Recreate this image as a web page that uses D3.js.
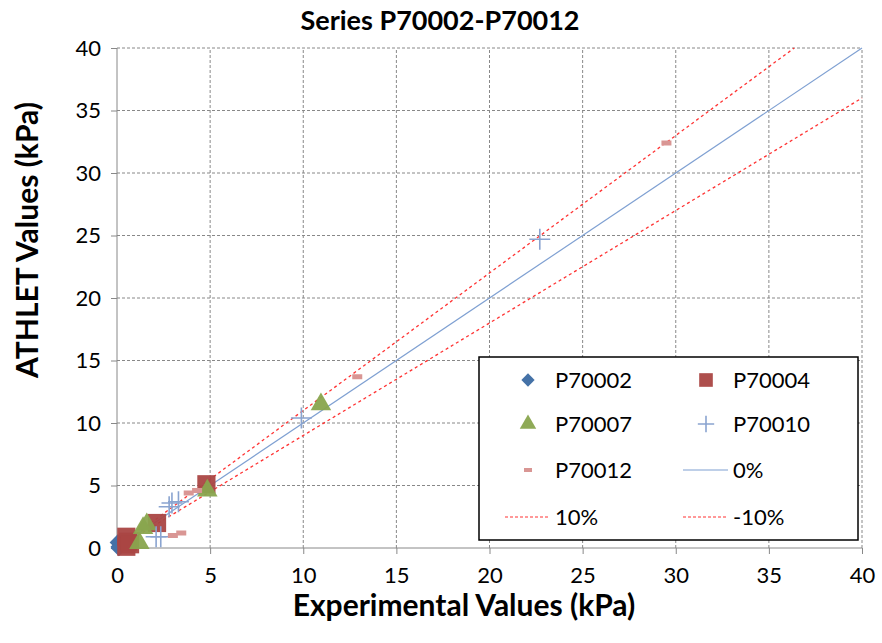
<!DOCTYPE html>
<html>
<head>
<meta charset="utf-8">
<script src="https://cdn.jsdelivr.net/npm/d3@7"></script>
<style>
  body { margin: 0; background: #fff; }
  text { font-family: Lato, "Open Sans", sans-serif; }
</style>
</head>
<body>
<script>
// values
const p70002 = [[0.05, 0.45], [0.1, 0.1], [0.2, 0.3], [0.1, 0.0]];
const p70004 = [[0.5, 0.9], [0.6, 0.5], [0.5, 0.1], [0.7, 0.3], [2.15, 2.0], [4.8, 5.1]];
const p70007 = [[1.2, 0.4], [1.4, 1.6], [1.6, 1.9], [4.85, 4.6], [10.95, 11.5]];
const p70010 = [[2.1, 0.9], [2.35, 0.9], [2.8, 3.3], [2.95, 3.6], [3.3, 3.7], [9.9, 10.4], [22.7, 24.7]];
const p70012 = [[3.0, 1.0], [3.45, 1.2], [3.85, 4.4], [4.3, 4.6], [12.9, 13.7], [29.5, 32.4]];
const refLines = [{name: "0%", f: 1.0}, {name: "10%", f: 1.1}, {name: "-10%", f: 0.9}];
const ticks = [0, 5, 10, 15, 20, 25, 30, 35, 40];

const width = 882, height = 643;
const margin = {top: 48, right: 20, bottom: 95, left: 117};

const svg = d3.select("body").append("svg")
  .attr("width", width)
  .attr("height", height);

const x = d3.scaleLinear().domain([0, 40]).range([margin.left, 862]);
const y = d3.scaleLinear().domain([0, 40]).range([548, margin.top]);

// grid
svg.append("g").selectAll("line.vg")
  .data(ticks.slice(1))
  .enter().append("line")
  .attr("x1", d => x(d)).attr("x2", d => x(d))
  .attr("y1", y(0)).attr("y2", y(40))
  .attr("stroke", "#888").attr("stroke-dasharray", "3,2").attr("stroke-width", 1);
svg.append("g").selectAll("line.hg")
  .data(ticks.slice(1))
  .enter().append("line")
  .attr("x1", x(0)).attr("x2", x(40))
  .attr("y1", d => y(d)).attr("y2", d => y(d))
  .attr("stroke", "#888").attr("stroke-dasharray", "3,2").attr("stroke-width", 1);

// axes
const xAxis = svg.append("g")
  .attr("transform", "translate(0," + y(0) + ")")
  .call(d3.axisBottom(x).tickValues(ticks).tickSize(6).tickPadding(13));
const yAxis = svg.append("g")
  .attr("transform", "translate(" + x(0) + ",0)")
  .call(d3.axisLeft(y).tickValues(ticks).tickSize(6).tickPadding(10));
[xAxis, yAxis].forEach(a => {
  a.selectAll("path, line").attr("stroke", "#888");
  a.selectAll("text").style("font-size", "22px").attr("fill", "#000");
});
xAxis.select(".domain").attr("d", "M" + x(0) + ",0H" + x(40));
yAxis.select(".domain").attr("d", "M0," + y(0) + "V" + y(40));

// reference lines
const lineColor = {"0%": "#7fa0d2", "10%": "#ff3333", "-10%": "#ff3333"};
refLines.forEach(r => {
  const xEnd = Math.min(40, 40 / r.f);
  svg.append("line")
    .attr("x1", x(0)).attr("y1", y(0))
    .attr("x2", x(xEnd)).attr("y2", y(xEnd * r.f))
    .attr("stroke", lineColor[r.name])
    .attr("stroke-width", r.f === 1 ? 1.2 : 1.3)
    .attr("stroke-dasharray", r.f === 1 ? null : "3,3");
});

// marker drawing
function marker(g, type, size) {
  if (type === "diamond") {
    g.append("path").attr("d", d3.symbol().type(d3.symbolDiamond2).size(size * 1.6)())
      .attr("fill", "#4572a7");
  } else if (type === "square") {
    g.append("rect").attr("x", -size / 22).attr("y", -size / 22)
      .attr("width", size / 11).attr("height", size / 11)
      .attr("fill", "#aa4643").attr("opacity", 0.95);
  } else if (type === "triangle") {
    g.append("path").attr("d", d3.symbol().type(d3.symbolTriangle).size(size * 1.3)())
      .attr("fill", "#89a54e").attr("opacity", 0.95);
  } else if (type === "plus") {
    const s = size / 22;
    g.append("path").attr("d", "M" + (-s) + ",0H" + s + "M0," + (-s) + "V" + s)
      .attr("stroke", "#8aa4d0").attr("stroke-width", 1.6).attr("fill", "none");
  } else if (type === "dash") {
    g.append("rect").attr("x", -5).attr("y", -2.5).attr("width", 10).attr("height", 5)
      .attr("fill", "#d99694");
  }
}

const series = [
  {name: "P70002", data: p70002, type: "diamond", size: 110},
  {name: "P70004", data: p70004, type: "square", size: 200},
  {name: "P70007", data: p70007, type: "triangle", size: 140},
  {name: "P70010", data: p70010, type: "plus", size: 230},
  {name: "P70012", data: p70012, type: "dash", size: 0}
];

series.forEach(s => {
  svg.append("g").selectAll("g")
    .data(s.data)
    .enter().append("g")
    .attr("transform", d => "translate(" + x(d[0]) + "," + y(d[1]) + ")")
    .each(function() { marker(d3.select(this), s.type, s.size); });
});

// legend
const lg = svg.append("g");
lg.append("rect")
  .attr("x", 479).attr("y", 357).attr("width", 379).attr("height", 183)
  .attr("fill", "#fff").attr("stroke", "#000").attr("stroke-width", 1.5);

const legendItems = [
  {name: "P70002", type: "diamond", size: 70, col: 0, row: 0},
  {name: "P70004", type: "square", size: 150, col: 1, row: 0},
  {name: "P70007", type: "triangle", size: 90, col: 0, row: 1},
  {name: "P70010", type: "plus", size: 180, col: 1, row: 1},
  {name: "P70012", type: "dash", size: 0, col: 0, row: 2},
  {name: "0%", type: "line", col: 1, row: 2},
  {name: "10%", type: "dotted", col: 0, row: 3},
  {name: "-10%", type: "dotted", col: 1, row: 3}
];
const rowY = [380, 424, 470, 517];
const colX = [528, 706];
legendItems.forEach(it => {
  const cx = colX[it.col], cy = rowY[it.row];
  const g = lg.append("g").attr("transform", "translate(" + cx + "," + cy + ")");
  if (it.type === "line" || it.type === "dotted") {
    g.append("line").attr("x1", -23).attr("x2", 22).attr("y1", 0).attr("y2", 0)
      .attr("stroke", it.type === "line" ? "#7fa0d2" : "#ff3333")
      .attr("stroke-width", 1.2)
      .attr("stroke-dasharray", it.type === "line" ? null : "3,2");
  } else if (it.type === "dash") {
    g.append("rect").attr("x", -4).attr("y", -2).attr("width", 8).attr("height", 4)
      .attr("fill", "#d99694");
  } else {
    marker(g, it.type, it.size);
  }
  lg.append("text")
    .attr("x", cx + 27).attr("y", cy + 8)
    .style("font-size", "22px")
    .text(it.name);
});

// titles
svg.append("text")
  .attr("x", 440).attr("y", 30)
  .style("text-anchor", "middle")
  .style("font-size", "27px").style("font-weight", "bold")
  .text("Series P70002-P70012");

svg.append("text")
  .attr("x", 464).attr("y", 616)
  .style("text-anchor", "middle")
  .style("font-size", "30px").style("font-weight", "bold")
  .text("Experimental Values (kPa)");

svg.append("text")
  .attr("transform", "translate(38,240) rotate(-90)")
  .style("text-anchor", "middle")
  .style("font-size", "30px").style("font-weight", "bold")
  .text("ATHLET Values (kPa)");
</script>
</body>
</html>
